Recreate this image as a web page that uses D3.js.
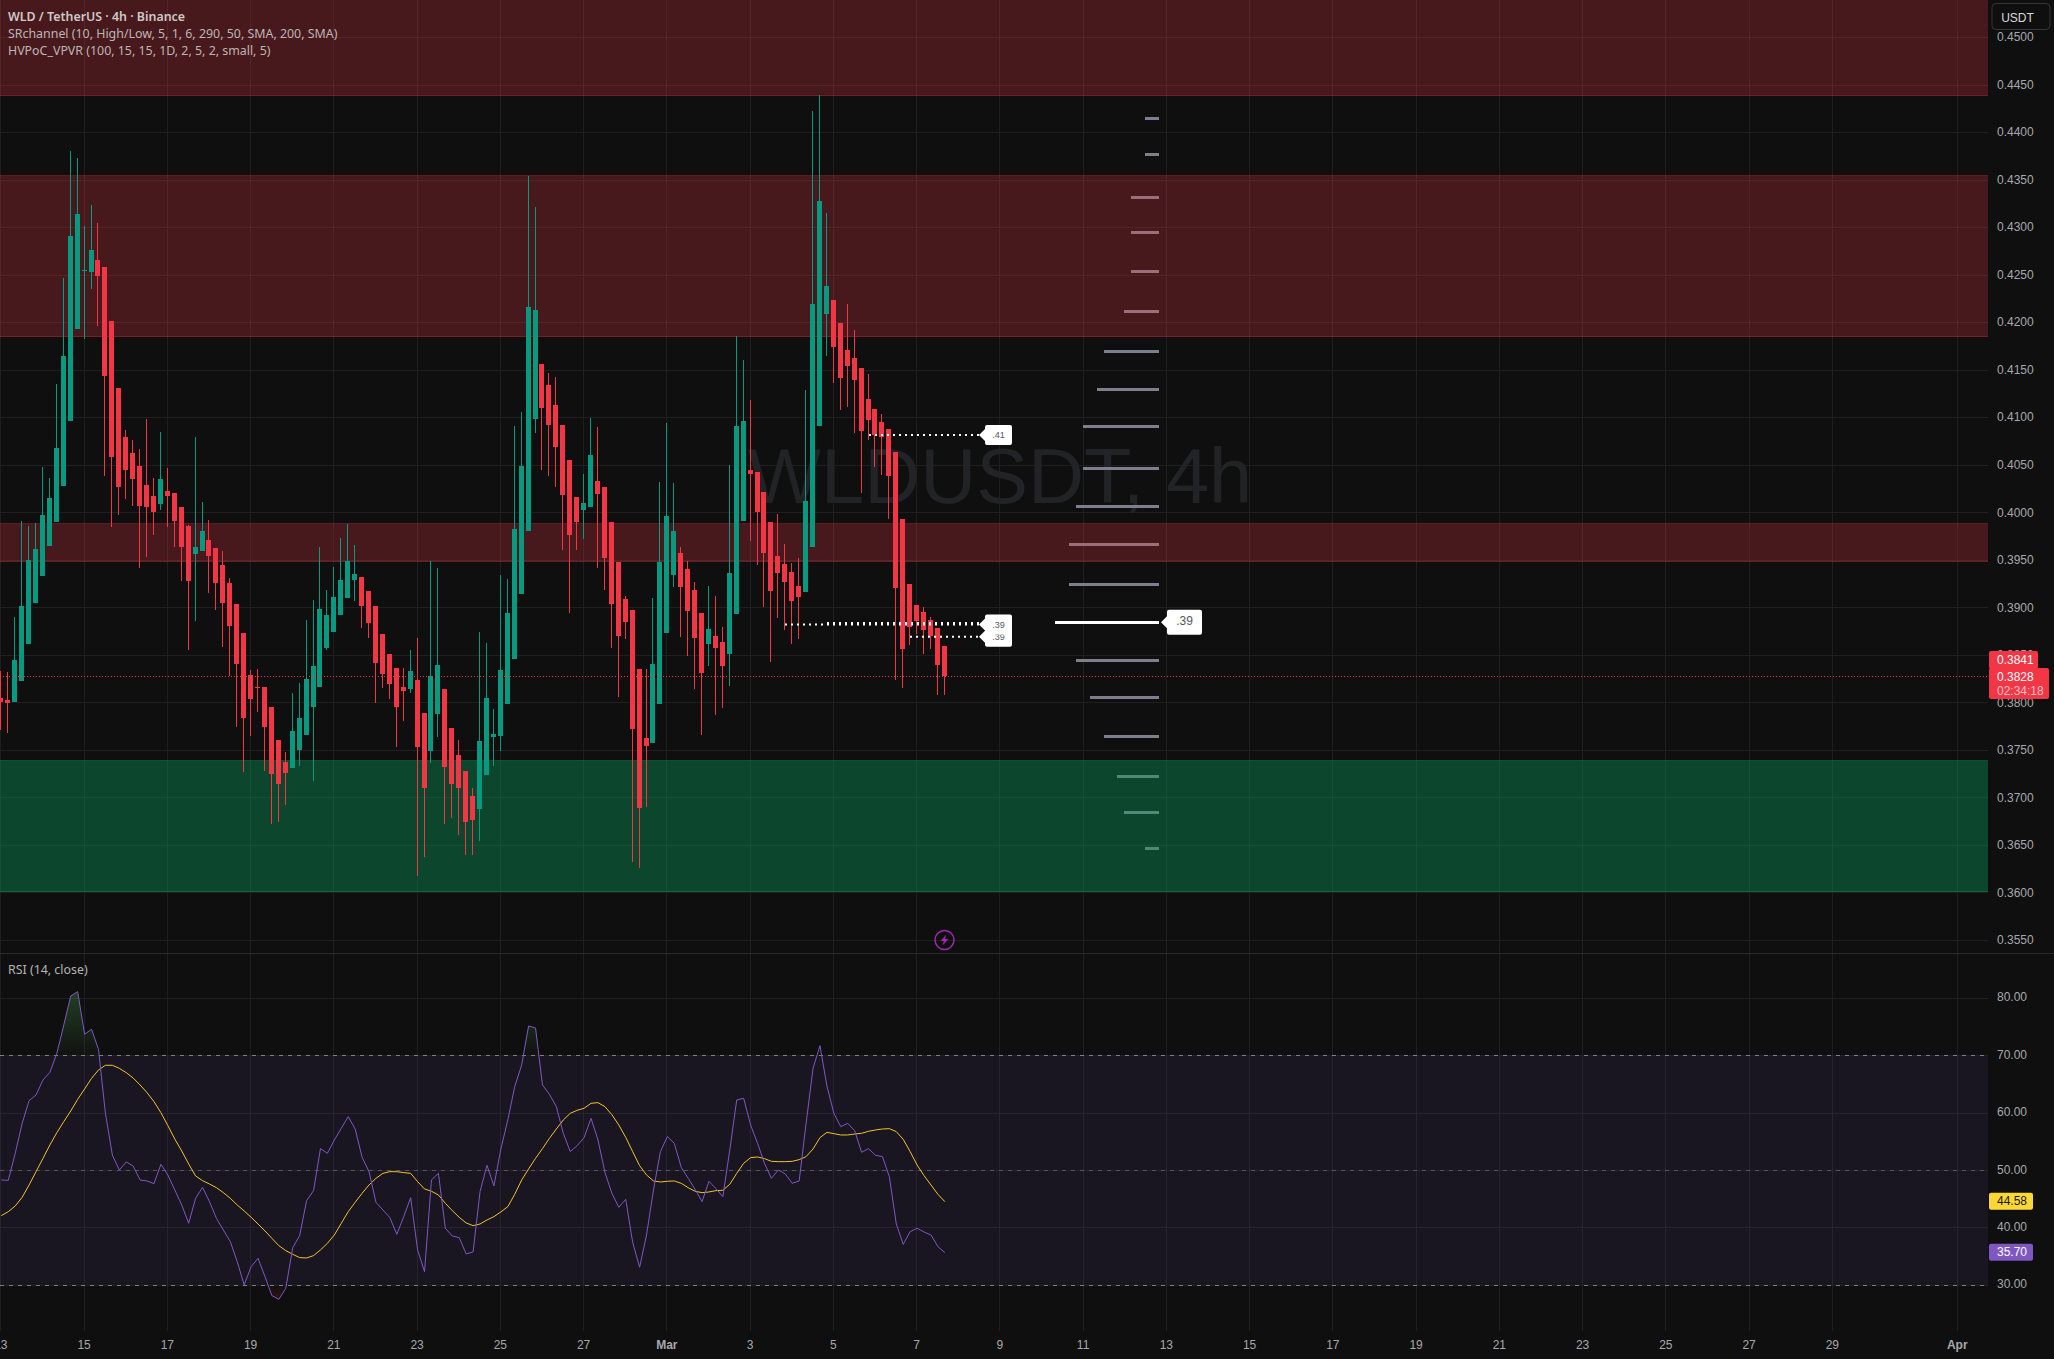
<!DOCTYPE html>
<html><head><meta charset="utf-8">
<script src="https://cdn.jsdelivr.net/npm/d3@7"></script>
<style>html,body{margin:0;padding:0;background:#0f0f0f;overflow:hidden}svg{display:block}</style>
</head><body><svg id="c" width="2054" height="1359"></svg>
<script>
const opens=[.38049,.38028,.38007,.38228,.38618,.39049,.39333,.39649,.39901,.40280,.40964,.41933,.42547,.42532,.42659,.42585,.42017,.41312,.40796,.40628,.40491,.40291,.40175,.40091,.40228,.40207,.40059,.39859,.39565,.39596,.39712,.39628,.39449,.39260,.39039,.38733,.38291,.38165,.38165,.37955,.37607,.37376,.37313,.37502,.37660,.37955,.38165,.38575,.38744,.38923,.39102,.39291,.39323,.39175,.39017,.38723,.38512,.38365,.38165,.38144,.38239,.37891,.37491,.37881,.38144,.37734,.37449,.37281,.37018,.36881,.37239,.37639,.37649,.37986,.38460,.39144,.39807,.40985,.41564,.41343,.41133,.40922,.40554,.40165,.40028,.40059,.40333,.40270,.39901,.39481,.39091,.38975,.38354,.37628,.37576,.37986,.38733,.39344,.39575,.39407,.39186,.38944,.38618,.38702,.38639,.38512,.38933,.39912,.40449,.40428,.40217,.39901,.39544,.39459,.39375,.39228,.39165,.39638,.40912,.42090,.42238,.41996,.41712,.41627,.41522,.41196,.41091,.40954,.40880,.40638,.39933,.39249,.39028,.38954,.38870,.38786,.38597];
const highs=[.38333,.38323,.38902,.39912,.39859,.39891,.40480,.40365,.41354,.42469,.43806,.43732,.43017,.43238,.43048,.42585,.42017,.41312,.40870,.40764,.40670,.40985,.40365,.40849,.40470,.40207,.40059,.39870,.40796,.40112,.39923,.39628,.39596,.39312,.39039,.38733,.38344,.38354,.38165,.37955,.37607,.37481,.38102,.38207,.38870,.39081,.39638,.39186,.39428,.39733,.39880,.39659,.39323,.39175,.39017,.38723,.38512,.38365,.38365,.38554,.38681,.37891,.39491,.39417,.38144,.37734,.37607,.37281,.37102,.38744,.38628,.37933,.39344,.39302,.40912,.41059,.43543,.43217,.41564,.41470,.41427,.40922,.40554,.40165,.40407,.40996,.40901,.40270,.39901,.39481,.39123,.38975,.38354,.38354,.39102,.40322,.40943,.40312,.39638,.39491,.39270,.38944,.39228,.39123,.38796,.40501,.41859,.41606,.41185,.40428,.40217,.39901,.39986,.39670,.39470,.39523,.41291,.44227,.44395,.43153,.42238,.41996,.42196,.41922,.41522,.41459,.41091,.41038,.40880,.40638,.39933,.39249,.39028,.39007,.38902,.38786,.38597];
const lows=[.37712,.37681,.38007,.38228,.38618,.39049,.39333,.39649,.39901,.40280,.40964,.41933,.41827,.42354,.41964,.40386,.39849,.39975,.40144,.40070,.39417,.39533,.39765,.40028,.39849,.39638,.39281,.38554,.38860,.39596,.39154,.38975,.38586,.38281,.37744,.37271,.37649,.37902,.37281,.36723,.36744,.36923,.37313,.37334,.37660,.37176,.38165,.38554,.38744,.38923,.39102,.39070,.38786,.38681,.37997,.38154,.38039,.37534,.37807,.38102,.36176,.36376,.37365,.37639,.36723,.36786,.36607,.36397,.36397,.36544,.37239,.37334,.37491,.37986,.38460,.39144,.39807,.40838,.40449,.40386,.40270,.39607,.38944,.39607,.39723,.40059,.39417,.39186,.38575,.38060,.38670,.36323,.36260,.36902,.37576,.37986,.38733,.39217,.38691,.38491,.38144,.37660,.38386,.37870,.37944,.38176,.38933,.39912,.39702,.39449,.39007,.38428,.38891,.38765,.38618,.38670,.39165,.39638,.40912,.41648,.41364,.41080,.41112,.40838,.40207,.40764,.40480,.40396,.39933,.38239,.38154,.38607,.38723,.38512,.38565,.38081,.38081];
const closes=[.38007,.37997,.38449,.39017,.39502,.39617,.39975,.40154,.40680,.41648,.42911,.43143,.42554,.42764,.42490,.41438,.40586,.40270,.40449,.40354,.40070,.40059,.40007,.40354,.40175,.39912,.39638,.39281,.39638,.39807,.39544,.39260,.39049,.38807,.38407,.37839,.38039,.38158,.37744,.37249,.37144,.37260,.37702,.37839,.38249,.38386,.38986,.38923,.39112,.39291,.39491,.39354,.39017,.38839,.38418,.38302,.38197,.37955,.38123,.38333,.37534,.37102,.38281,.38397,.37323,.37144,.37102,.36744,.36765,.37597,.38049,.37670,.38344,.38944,.39828,.40491,.42164,.42133,.41101,.40922,.40691,.40186,.39765,.39901,.40101,.40607,.40196,.39523,.39039,.38702,.38849,.37723,.36892,.37544,.38407,.39481,.39965,.39807,.39217,.38965,.38681,.38312,.38775,.38575,.38386,.39365,.40912,.40964,.40407,.40007,.39575,.39175,.39365,.39270,.39070,.39112,.40122,.42196,.43280,.42385,.41743,.41417,.41543,.41396,.40859,.40975,.40817,.40796,.40386,.39207,.38565,.38796,.38860,.38765,.38702,.38397,.38280];
const rsiValues=[48.35,48.29,53.0,58.22,62.17,63.16,65.77,67.11,70.42,75.35,80.4,81.16,73.73,74.6,71.11,59.96,52.7,50.09,51.49,50.79,48.35,48.18,47.71,51.08,49.22,46.61,43.99,40.8,45.16,47.07,44.58,41.67,39.64,37.61,34.12,30.06,33.25,34.7,31.51,28.2,27.56,29.48,36.56,38.65,44.75,46.49,53.81,53.0,55.32,57.35,59.38,57.23,52.3,49.8,44.46,43.12,41.79,38.88,41.96,45.27,36.16,32.38,48.35,49.51,39.93,38.59,38.3,35.46,35.81,46.32,50.91,47.3,53.75,58.8,64.61,68.38,75.18,74.83,64.9,63.27,61.13,56.48,53.29,54.33,55.73,59.09,55.32,49.69,46.03,43.59,44.98,37.49,33.14,38.77,46.61,53.29,55.9,54.74,50.56,48.64,46.72,44.58,48.12,46.84,45.45,53.58,62.29,62.58,57.93,54.74,51.25,48.64,50.09,49.4,47.77,48.18,58.22,67.8,71.75,64.73,59.96,57.64,58.22,56.94,53.17,53.81,52.65,52.42,48.93,40.68,37.14,39.35,39.93,39.29,38.77,36.74,35.70];
const rsiMA=[42.14,42.83,43.82,45.33,47.48,49.8,52.12,54.45,56.6,58.51,60.37,62.4,64.2,66.06,67.51,68.33,68.33,67.8,67.05,66.12,64.9,63.56,62.0,60.08,57.82,55.49,53.4,51.14,49.05,48.23,47.65,47.01,46.14,45.16,43.99,42.95,41.85,40.68,39.47,38.19,36.91,36.04,35.4,34.82,34.76,35.17,36.16,37.32,38.77,40.8,42.83,44.46,46.03,47.48,48.64,49.51,49.8,49.8,49.63,49.51,48.06,46.78,46.38,45.74,44.29,43.01,41.85,40.86,40.39,40.68,41.38,41.96,42.78,43.7,45.85,48.35,50.27,52.12,53.81,55.61,57.23,58.8,59.96,60.49,60.84,61.71,61.82,61.13,59.73,57.93,55.78,53.29,50.85,49.22,48.18,48.0,48.12,48.18,47.77,47.01,46.38,46.14,46.26,46.49,46.55,47.6,49.51,51.25,52.24,52.36,52.07,51.6,51.54,51.54,51.6,51.89,52.42,53.75,55.73,56.65,56.42,56.19,56.19,56.36,56.48,56.83,57.06,57.23,57.29,56.77,55.43,53.29,50.96,49.1,47.48,45.85,44.58];
const priceTicks=[.355,.36,.365,.37,.375,.38,.385,.39,.395,.4,.405,.41,.415,.42,.425,.43,.435,.44,.445,.45];
const rsiTicks=[30,40,50,60,70,80];
const dateTicks=[[2025,1,13],[2025,1,15],[2025,1,17],[2025,1,19],[2025,1,21],[2025,1,23],[2025,1,25],[2025,1,27],[2025,2,1],[2025,2,3],[2025,2,5],[2025,2,7],[2025,2,9],[2025,2,11],[2025,2,13],[2025,2,15],[2025,2,17],[2025,2,19],[2025,2,21],[2025,2,23],[2025,2,25],[2025,2,27],[2025,2,29],[2025,3,1]];
const resistanceBands=[[.4439,.4560],[.41852,.43543],[.39488,.39881]];
const supportBands=[[.36011,.37387]];
const vpLevels=[.44150,.43771,.43318,.42950,.42540,.42119,.41698,.41301,.40909,.40467,.40067,.39667,.39246,.38846,.38446,.38060,.37650,.37234,.36850,.36475];
const vpVolumes=[2,2,4,4,4,5,8,9,11,11,12,13,13,15,12,10,8,6,5,2];
const srLevels=[.40817,.38695,.38823,.38840];
const srStarts=[125,131,113,119];
const srLabels=[".41",".39",".39"];
const srLabelPrices=[.40817,.38695,.38823];
const legendLines=["WLD / TetherUS · 4h · Binance","SRchannel (10, High/Low, 5, 1, 6, 290, 50, SMA, 200, SMA)","HVPoC_VPVR (100, 15, 15, 1D, 2, 5, 2, small, 5)"];

const PLOT_R=1988, PANE_B=953, GRID_B=1331;
const GREEN="#089981", RED="#f23645", AXISTXT="#a6a8ad";
const FONT_AX="'Liberation Sans',Arial,sans-serif", FONT_LG="'Noto Sans',sans-serif";
const t0=Date.UTC(2025,1,13), H4=4*3600e3;
const dt=i=>new Date(t0+i*H4);
const x=d3.scaleUtc().domain([new Date(t0),new Date(Date.UTC(2025,3,1))]).range([0.85,1957.225]);
const px=d=>Math.floor(x(d));
const y=d3.scaleLinear().domain([.45,.355]).range([37.5,940.3]);
const yR=d3.scaleLinear().domain([30,80]).range([1285.3,998.3]);
const vpW=d3.scaleLinear().domain([0,15]).range([0,104]);

const svg=d3.select("#c");
const defs=svg.append("defs");
defs.append("clipPath").attr("id","plot").append("rect").attr("width",PLOT_R).attr("height",PANE_B);
defs.append("clipPath").attr("id","rsiClip").append("rect").attr("y",PANE_B).attr("width",PLOT_R).attr("height",GRID_B-PANE_B);
defs.append("clipPath").attr("id","ob").append("rect").attr("y",PANE_B).attr("width",PLOT_R).attr("height",yR(70)-PANE_B);
defs.append("clipPath").attr("id","os").append("rect").attr("y",yR(30)).attr("width",PLOT_R).attr("height",60);
const gr=defs.append("linearGradient").attr("id","obg").attr("gradientUnits","userSpaceOnUse").attr("x1",0).attr("x2",0).attr("y1",yR(81)).attr("y2",yR(70));
gr.append("stop").attr("offset",0).attr("stop-color","#4caf50").attr("stop-opacity",.3);
gr.append("stop").attr("offset",1).attr("stop-color","#4caf50").attr("stop-opacity",.02);
const gr2=defs.append("linearGradient").attr("id","osg").attr("gradientUnits","userSpaceOnUse").attr("x1",0).attr("x2",0).attr("y1",yR(30)).attr("y2",yR(27));
gr2.append("stop").attr("offset",0).attr("stop-color",RED).attr("stop-opacity",.02);
gr2.append("stop").attr("offset",1).attr("stop-color",RED).attr("stop-opacity",.15);

svg.append("rect").attr("width",2054).attr("height",1359).attr("fill","#0f0f0f");

// grids
const gridColor="#1f1f1f";
function fixY(g,scale){g.selectAll(".tick").attr("transform",d=>`translate(0,${Math.floor(scale(d))+.5})`);}
const gv=svg.append("g").attr("class","gv").attr("transform",`translate(0,${GRID_B})`)
  .call(d3.axisBottom(x).tickValues(dateTicks.map(a=>new Date(Date.UTC(...a)))).tickSize(-GRID_B).tickFormat(""));
gv.select(".domain").remove();
gv.selectAll(".tick").attr("transform",d=>`translate(${px(d)+.5},0)`).select("line").attr("stroke",gridColor);
const gh=svg.append("g").call(d3.axisLeft(y).tickValues(priceTicks).tickSize(-PLOT_R).tickFormat("").offset(0));
gh.select(".domain").remove();fixY(gh,y);gh.selectAll("line").attr("stroke",gridColor).attr("x1",PLOT_R).attr("x2",0);
const ghr=svg.append("g").call(d3.axisLeft(yR).tickValues(rsiTicks).tickSize(-PLOT_R).tickFormat("").offset(0));
ghr.select(".domain").remove();fixY(ghr,yR);ghr.selectAll("line").attr("stroke",gridColor).attr("x1",PLOT_R).attr("x2",0);
svg.append("line").attr("x1",0).attr("x2",2054).attr("y1",PANE_B+.5).attr("y2",PANE_B+.5).attr("stroke","#2a2a2a");

// watermark
svg.append("text").text("WLDUSDT, 4h").attr("x",1000).attr("y",503).attr("text-anchor","middle")
  .attr("font-family",FONT_AX).attr("font-size",77.6).attr("fill","#222327");

// volume profile
const main=svg.append("g").attr("clip-path","url(#plot)");
const poc=vpVolumes.indexOf(d3.max(vpVolumes));
main.append("g").selectAll("rect").data(vpLevels).join("rect")
  .attr("x",(d,i)=>1159-vpW(vpVolumes[i])).attr("width",(d,i)=>vpW(vpVolumes[i]))
  .attr("y",(d,i)=>Math.round(y(d))-1.5).attr("height",3)
  .attr("fill",(d,i)=>i===poc?"#ffffff":"#7d808c").attr("shape-rendering","crispEdges");

// bands
function band(arr,fill,stroke){
  const g=main.append("g");
  g.selectAll("rect").data(arr).join("rect").attr("x",0).attr("width",PLOT_R)
    .attr("y",d=>y(d[1])).attr("height",d=>y(d[0])-y(d[1])).attr("fill",fill);
  arr.forEach(d=>d.forEach(v=>g.append("line").attr("x1",0).attr("x2",PLOT_R).attr("y1",Math.floor(y(v))+.5).attr("y2",Math.floor(y(v))+.5).attr("stroke",stroke)));
}
band(resistanceBands,"rgba(242,54,69,.25)","rgba(242,54,69,.35)");
band(supportBands,"rgba(8,153,87,.4)","rgba(20,160,90,.45)");

// candles
const candles=d3.range(opens.length);
const cg=main.append("g").attr("shape-rendering","crispEdges");
const colorOf=i=>closes[i]>=opens[i]?GREEN:RED;
cg.selectAll(".w").data(candles).join("rect").attr("class","w")
  .attr("x",i=>px(dt(i))).attr("width",1).attr("y",i=>Math.round(y(highs[i]))).attr("height",i=>Math.max(1,Math.round(y(lows[i]))-Math.round(y(highs[i])))).attr("fill",colorOf);
cg.selectAll(".b").data(candles).join("rect").attr("class","b")
  .attr("x",i=>px(dt(i))-2).attr("width",5).attr("y",i=>Math.round(y(Math.max(opens[i],closes[i]))))
  .attr("height",i=>Math.max(1,Math.round(y(Math.min(opens[i],closes[i])))-Math.round(y(Math.max(opens[i],closes[i]))))).attr("fill",colorOf);

// last price line
const lastClose=closes[closes.length-1];
main.append("line").attr("x1",0).attr("x2",PLOT_R).attr("y1",Math.floor(y(lastClose))+.5).attr("y2",Math.floor(y(lastClose))+.5)
  .attr("stroke",RED).attr("stroke-dasharray","1 2");

// SR dotted lines
main.append("g").selectAll("line").data(srLevels).join("line")
  .attr("x1",(d,i)=>px(dt(srStarts[i]))+1).attr("x2",980).attr("y1",d=>y(d)).attr("y2",d=>y(d))
  .attr("stroke","#fff").attr("stroke-width",2).attr("stroke-dasharray","2 4");

// SR labels
function tagBox(g,xL,w,h,cy,txt,fs,tcol,textDy){
  const p=d3.path(),t=cy-h/2,b=cy+h/2,r=2,tip=6;
  p.moveTo(xL-tip,cy);p.lineTo(xL,cy-tip);p.lineTo(xL,t+r);p.quadraticCurveTo(xL,t,xL+r,t);
  p.lineTo(xL+w-r,t);p.quadraticCurveTo(xL+w,t,xL+w,t+r);p.lineTo(xL+w,b-r);p.quadraticCurveTo(xL+w,b,xL+w-r,b);
  p.lineTo(xL+r,b);p.quadraticCurveTo(xL,b,xL,b-r);p.lineTo(xL,cy+tip);p.closePath();
  g.append("path").attr("d",p.toString()).attr("fill","#fff");
  g.append("text").text(txt).attr("x",xL+w/2).attr("y",cy+(textDy||0)).attr("dy",".35em").attr("text-anchor","middle")
   .attr("font-family",FONT_AX).attr("font-size",fs).attr("fill",tcol);
}
const lb=main.append("g");
srLabels.forEach((t,i)=>tagBox(lb,985,27,20,y(srLabelPrices[i]),t,9,"#555761"));
tagBox(lb,1167,35,25,y(vpLevels[poc]),".39",12,"#555761",-1.6);

// lightning marker
const bolt=main.append("g").attr("transform",`translate(${px(dt(136))+.5},940)`);
bolt.append("circle").attr("r",9.5).attr("fill","none").attr("stroke","#9c27b0").attr("stroke-width",1.5);
bolt.append("path").attr("d","M1.8,-5.5 L-4,1 L-0.6,1 L-2,5.5 L4,-1 L0.6,-1 Z").attr("fill","#9c27b0");

// RSI
const rsi=svg.append("g").attr("clip-path","url(#rsiClip)");
rsi.append("rect").attr("x",0).attr("width",PLOT_R).attr("y",yR(70)).attr("height",yR(30)-yR(70)).attr("fill","rgba(126,87,194,.1)");
[[70,"#7f7f87"],[50,"#57555f"],[30,"#7f7f87"]].forEach(([v,c])=>rsi.append("line").attr("x1",0).attr("x2",PLOT_R).attr("y1",Math.floor(yR(v))+.5).attr("y2",Math.floor(yR(v))+.5).attr("stroke",c).attr("stroke-dasharray","4 5"));
const xm=i=>x(dt(i))+.5;
const area70=d3.area().x(xm).y0(yR(70)).y1(i=>yR(rsiValues[i]));
const area30=d3.area().x(xm).y0(yR(30)).y1(i=>yR(rsiValues[i]));
rsi.append("path").attr("clip-path","url(#ob)").attr("d",area70(candles)).attr("fill","url(#obg)");
rsi.append("path").attr("clip-path","url(#os)").attr("d",area30(candles)).attr("fill","url(#osg)");
rsi.append("path").attr("d",d3.line().x(xm).y(i=>yR(rsiMA[i]))(candles)).attr("fill","none").attr("stroke","#f2c22a").attr("stroke-width",1);
rsi.append("path").attr("d",d3.line().x(xm).y(i=>yR(rsiValues[i]))(candles)).attr("fill","none").attr("stroke","#7e57c2").attr("stroke-width",1);

// axes
function styleAxis(g){g.select(".domain").remove();g.selectAll("text").attr("fill",AXISTXT).attr("font-family",FONT_AX).attr("font-size",12);}
const pa=svg.append("g").attr("transform",`translate(${PLOT_R},0)`).call(d3.axisRight(y).tickValues(priceTicks).tickSize(0).tickPadding(9).tickFormat(d3.format(".4f")).offset(0));
styleAxis(pa);
const ra=svg.append("g").attr("transform",`translate(${PLOT_R},-0.7)`).call(d3.axisRight(yR).tickValues(rsiTicks).tickSize(0).tickPadding(9).tickFormat(d3.format(".2f")).offset(0));
styleAxis(ra);
const fmtDate=d=>d.getUTCDate()===1?d3.utcFormat("%b")(d):String(d.getUTCDate());
const xa=svg.append("g").attr("transform",`translate(0,1340)`).call(d3.axisBottom(x).tickValues(dateTicks.map(a=>new Date(Date.UTC(...a)))).tickSize(0).tickPadding(0).tickFormat(fmtDate).offset(0));
styleAxis(xa);
xa.selectAll("text").attr("font-weight",d=>d.getUTCDate()===1?"700":"400").attr("dy",".71em").attr("y",0);

// USDT button
svg.append("rect").attr("x",1992).attr("y",3.5).attr("width",58).attr("height",26).attr("rx",4).attr("fill","#0f0f0f").attr("stroke","#363636");
svg.append("text").text("USDT").attr("x",2017.5).attr("y",17.5).attr("dy",".35em").attr("text-anchor","middle").attr("font-family",FONT_AX).attr("font-size",12).attr("fill","#dbdbdb");

// price tags
function rtag(x0,w,t,h,fill){svg.append("rect").attr("x",x0).attr("y",t).attr("width",w).attr("height",h).attr("rx",2).attr("fill",fill);}
function rtxt(s,cy,fill){svg.append("text").text(s).attr("x",1997).attr("y",cy).attr("dy",".35em").attr("font-family",FONT_AX).attr("font-size",12).attr("fill",fill);}
const lastOpenTag=.3841;
rtag(1989,49,651,18,RED);
rtxt(d3.format(".4f")(lastOpenTag),659.5,"#fff");
rtag(1989,60,668,31,RED);
rtxt(d3.format(".4f")(lastClose),677,"#fff");
rtxt("02:34:18",690.7,"#ffc0c5");
const lastMA=rsiMA[rsiMA.length-1], lastRsi=rsiValues[rsiValues.length-1];
rtag(1989,44,yR(lastMA)-8.9,17,"#fdd835");
rtxt(d3.format(".2f")(lastMA),yR(lastMA)-.7,"#131722");
rtag(1989,44,yR(lastRsi)-8.9,17,"#7e57c2");
rtxt(d3.format(".2f")(lastRsi),yR(lastRsi)-.7,"#fff");

// legend
legendLines.forEach((s,i)=>svg.append("text").text(s).attr("x",8).attr("y",16.5+17*i).attr("dy",".35em")
  .attr("font-family",FONT_LG).attr("font-size",12.4).attr("font-weight",i===0?600:400).attr("fill",i===0?"#cfc8c8":"#bdb5b5"));
svg.append("text").text("RSI (14, close)").attr("x",8).attr("y",970).attr("dy",".35em").attr("font-family",FONT_LG).attr("font-size",12.4).attr("fill","#b4b4b4");
</script></body></html>
